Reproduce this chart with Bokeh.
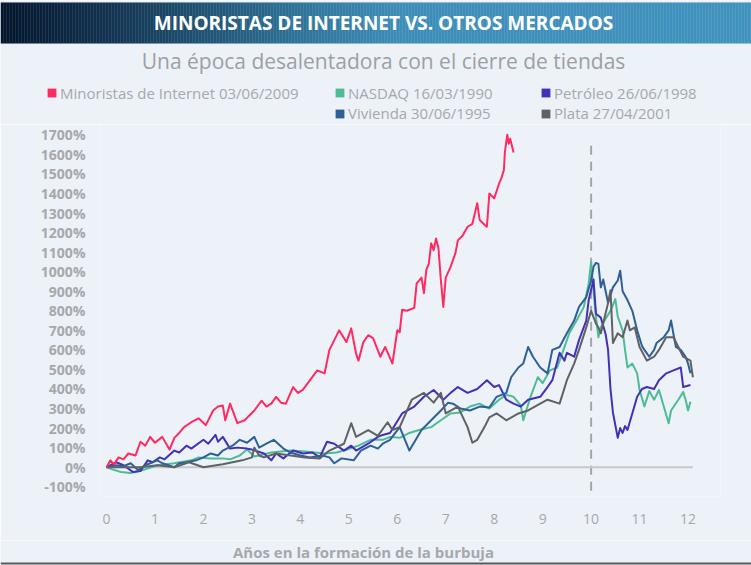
import numpy as np
from bokeh.plotting import figure
from bokeh.layouts import column
from bokeh.models import Range1d, FixedTicker, PrintfTickFormatter, Legend, LegendItem
from bokeh.embed import file_html
from bokeh.resources import INLINE
from bokeh.core.properties import value

# ---------------- data ----------------
TITLE = "MINORISTAS DE INTERNET VS. OTROS MERCADOS"
SUBTITLE = "Una época desalentadora con el cierre de tiendas"
X_LABEL = "Años en la formación de la burbuja"

SERIES_NAMES = [
    "Minoristas de Internet 03/06/2009",
    "NASDAQ 16/03/1990",
    "Petróleo 26/06/1998",
    "Vivienda 30/06/1995",
    "Plata 27/04/2001",
]

internet_years = [0, 0.08, 0.15, 0.25, 0.35, 0.45, 0.6, 0.7, 0.8, 0.9, 1.0, 1.15, 1.3, 1.4, 1.5, 1.6,
                  1.75, 1.9, 2.05, 2.2, 2.3, 2.4, 2.45, 2.55, 2.7, 2.85, 3.05, 3.2, 3.3, 3.4, 3.5, 3.6,
                  3.7, 3.85, 3.95, 4.05, 4.2, 4.35, 4.5, 4.6, 4.7, 4.8, 4.95, 5.05, 5.15, 5.2, 5.3,
                  5.4, 5.5, 5.65, 5.75, 5.9, 6.0, 6.05, 6.1, 6.2, 6.35, 6.4, 6.5, 6.55, 6.6, 6.65,
                  6.7, 6.75, 6.8, 6.85, 6.9, 6.95, 7.0, 7.1, 7.2, 7.25, 7.35, 7.45, 7.55, 7.65, 7.7,
                  7.8, 7.85, 7.9, 8.0, 8.1, 8.15, 8.2, 8.22, 8.27, 8.3, 8.33, 8.4]
internet_pct = [0, 35, 15, 50, 40, 70, 60, 130, 110, 155, 125, 155, 90, 150, 175, 205,
                230, 250, 215, 290, 310, 315, 240, 325, 225, 240, 290, 340, 310, 325, 360, 330,
                325, 410, 380, 395, 445, 495, 480, 600, 650, 700, 640, 710, 580, 545, 640,
                675, 660, 565, 615, 530, 700, 690, 805, 800, 815, 940, 970, 890, 1010, 1040,
                1145, 1110, 1170, 1120, 955, 820, 970, 1025, 1095, 1160, 1185, 1230, 1245, 1350, 1265,
                1240, 1230, 1400, 1375, 1450, 1480, 1520, 1610, 1700, 1655, 1680, 1610]

nasdaq_years = [0, 0.1, 0.3, 0.5, 0.75, 1.05, 1.4, 1.75, 1.9, 2.15, 2.4, 2.55, 2.75, 2.9, 3.05, 3.4,
                3.8, 4.1, 4.5, 4.75, 4.9, 5.2, 5.45, 5.7, 5.85, 6.05, 6.25, 6.45, 6.7, 6.9, 7.1,
                7.3, 7.5, 7.7, 7.9, 8.1, 8.25, 8.4, 8.55, 8.6, 8.75, 8.9, 9.0, 9.15, 9.3, 9.4,
                9.55, 9.7, 9.85, 9.95, 10.0, 10.05, 10.1, 10.15, 10.2, 10.3, 10.4, 10.5, 10.55,
                10.65, 10.7, 10.75, 10.85, 10.95, 11.0, 11.1, 11.2, 11.3, 11.4, 11.5, 11.6,
                11.65, 11.8, 11.9, 11.95, 12.0, 12.05]
nasdaq_pct = [0, -10, -25, -30, -15, 10, 20, 35, 50, 45, 45, 40, 60, 90, 55, 75,
              85, 80, 70, 75, 85, 110, 140, 140, 155, 150, 175, 190, 205, 240, 275,
              280, 310, 325, 300, 345, 370, 360, 315, 240, 360, 460, 430, 495, 510, 580,
              685, 750, 820, 940, 1050, 900, 770, 665, 715, 760, 800, 860, 770,
              700, 600, 510, 530, 480, 395, 310, 390, 345, 395, 310, 225,
              290, 345, 385, 345, 290, 335]

oil_years = [0, 0.2, 0.35, 0.55, 0.7, 0.85, 0.95, 1.1, 1.2, 1.4, 1.5, 1.65, 1.75, 2.0, 2.1, 2.25,
             2.3, 2.4, 2.55, 2.7, 2.9, 3.0, 3.25, 3.4, 3.5, 3.65, 3.85, 4.05, 4.25, 4.4, 4.55,
             4.7, 4.9, 5.05, 5.15, 5.4, 5.6, 5.7, 5.85, 6.1, 6.35, 6.55, 6.75, 6.95, 7.1, 7.25,
             7.45, 7.65, 7.85, 8.0, 8.1, 8.25, 8.4, 8.55, 8.7, 8.95, 9.1, 9.2, 9.35, 9.45, 9.5,
             9.65, 9.75, 9.9, 9.95, 10.05, 10.1, 10.2, 10.3, 10.35, 10.4, 10.45, 10.55, 10.6,
             10.65, 10.7, 10.75, 10.85, 10.95, 11.05, 11.15, 11.3, 11.4, 11.55, 11.7, 11.85,
             11.9, 12.05]
oil_pct = [0, 25, 10, -25, -20, 35, 25, 50, 40, 85, 75, 110, 95, 140, 120, 165,
           130, 155, 95, 100, 95, 90, 70, 35, 70, 45, 85, 70, 75, 50, 130,
           120, 85, 110, 85, 120, 155, 165, 175, 275, 310, 360, 395, 345, 380, 410,
           380, 400, 445, 410, 420, 345, 325, 310, 345, 360, 410, 445, 585, 545, 585,
           565, 650, 750, 855, 960, 785, 765, 680, 600, 400, 280, 150, 200,
           175, 210, 190, 275, 360, 400, 410, 400, 445, 480, 495, 510,
           410, 420]

housing_years = [0, 0.2, 0.35, 0.5, 0.65, 0.8, 1.05, 1.15, 1.4, 1.5, 1.65, 1.85, 2.0, 2.15, 2.3,
                 2.4, 2.6, 2.75, 2.9, 3.05, 3.15, 3.3, 3.45, 3.65, 3.8, 4.0, 4.2, 4.45, 4.6, 4.7,
                 4.85, 5.1, 5.25, 5.45, 5.6, 5.7, 5.85, 6.05, 6.25, 6.5, 6.7, 6.9, 7.05, 7.15,
                 7.3, 7.5, 7.7, 7.9, 8.05, 8.25, 8.35, 8.5, 8.6, 8.7, 8.8, 8.95, 9.1, 9.2, 9.35,
                 9.5, 9.65, 9.75, 9.9, 10.0, 10.05, 10.1, 10.15, 10.2, 10.25, 10.35, 10.45,
                 10.55, 10.6, 10.65, 10.75, 10.85, 10.95, 11.05, 11.1, 11.2, 11.3, 11.35, 11.5,
                 11.6, 11.65, 11.7, 11.75, 11.85, 11.95, 12.0, 12.05]
housing_pct = [0, 10, 5, 20, -15, 10, 35, 20, 0, 20, 25, 35, 50, 70, 60,
               85, 110, 140, 125, 155, 100, 120, 140, 95, 75, 60, 50, 60, 50, 20,
               45, 35, 85, 110, 95, 120, 140, 205, 85, 190, 240, 290, 330, 325,
               300, 290, 310, 305, 360, 380, 460, 510, 530, 615, 565, 510, 480, 600, 615,
               685, 750, 820, 870, 955, 1025, 1045, 1040, 920, 960, 840, 920,
               955, 1005, 900, 855, 800, 700, 620, 600, 565, 600, 635, 665,
               700, 750, 680, 615, 600, 565, 530, 480]

silver_years = [0, 0.35, 0.7, 1.05, 1.4, 1.7, 2.0, 2.4, 2.8, 3.0, 3.05, 3.15, 3.25, 3.5, 3.8, 4.1,
                4.4, 4.6, 4.9, 5.05, 5.15, 5.4, 5.6, 5.8, 5.9, 6.05, 6.3, 6.55, 6.75, 6.9, 7.0,
                7.25, 7.45, 7.55, 7.65, 7.8, 7.9, 8.05, 8.25, 8.5, 8.7, 8.95, 9.1, 9.35, 9.5,
                9.65, 9.75, 9.9, 10.0, 10.1, 10.15, 10.2, 10.35, 10.4, 10.45, 10.55, 10.65,
                10.75, 10.8, 10.9, 11.0, 11.15, 11.3, 11.4, 11.55, 11.7, 11.8, 11.9, 12.05, 12.1]
silver_pct = [0, 0, 0, 10, 0, 25, 0, 15, 35, 50, 100, 60, 50, 70, 60, 50,
              45, 85, 120, 225, 155, 190, 160, 230, 190, 205, 345, 380, 330, 380, 275,
              310, 205, 125, 140, 205, 255, 275, 240, 275, 290, 325, 345, 325, 445,
              530, 600, 715, 800, 735, 715, 685, 840, 905, 635, 685, 665,
              750, 700, 715, 615, 545, 565, 600, 665, 665, 615, 565, 545, 460]

SERIES_YEARS = [internet_years, nasdaq_years, oil_years, housing_years, silver_years]
SERIES_PCT = [internet_pct, nasdaq_pct, oil_pct, housing_pct, silver_pct]
COLORS = ["#ff2a5f", "#4dbb95", "#4131b9", "#2e5f97", "#5f6163"]

Y_TICKS = [-100, 0, 100, 200, 300, 400, 500, 600, 700, 800, 900, 1000, 1100, 1200,
           1300, 1400, 1500, 1600, 1700]
X_TICKS = [0, 1, 2, 3, 4, 5, 6, 7, 8, 9, 10, 11, 12]
PEAK_YEAR = 10
PEAK_LINE_SPAN = [-120, 1670]
BASELINE_YEARS = [0, 12.1]

# ---------------- style ----------------
W = 751
BG = "#edf2f9"
FONT = "Open Sans"
GREY_TXT = "#a6a8ab"


def panel(h):
    f = figure(width=W, height=h, x_range=Range1d(0, W), y_range=Range1d(h, 0),
               x_axis_type=None, y_axis_type=None, toolbar_location=None,
               output_backend="svg", min_border=0, background_fill_color=BG,
               border_fill_color=BG, outline_line_color=None, frame_align=False)
    f.grid.visible = False
    return f


# ---------------- header ----------------
HDR_H = 124
hdr = panel(HDR_H)

stop_x = [0, 100, 200, 300, 400, 751]
stop_rgb = [(3, 21, 43), (16, 48, 77), (31, 82, 114), (47, 115, 153), (61, 141, 184), (64, 146, 190)]
lefts = np.arange(0, W, 3)
cols = []
for lx in lefts:
    c = [int(round(np.interp(lx + 1.5, stop_x, [s[k] for s in stop_rgb]))) for k in range(3)]
    cols.append("#%02x%02x%02x" % tuple(c))
hdr.quad(left=lefts, right=lefts + 3.3, top=2, bottom=43, fill_color=cols, line_color=None)

hdr.text(x=[383], y=[22], text=[TITLE], text_font=value(FONT), text_font_style="bold",
         text_font_size="19px", text_color="white", text_align="center", text_baseline="middle")
hdr.text(x=[383], y=[60], text=[SUBTITLE], text_font=value(FONT), text_font_size="21px",
         text_color="#9d9fa2", text_align="center", text_baseline="middle")

nan = float("nan")
swatches = [hdr.quad(left=[nan], right=[nan], top=[nan], bottom=[nan], fill_color=c, line_color=None)
            for c in COLORS]


def make_legend(idx, loc):
    lg = Legend(items=[LegendItem(label=SERIES_NAMES[i], renderers=[swatches[i]]) for i in idx],
                location=loc, orientation="horizontal", label_text_font=FONT,
                label_text_font_size="15px", label_text_color=GREY_TXT, glyph_width=11,
                glyph_height=11, label_standoff=3, padding=0, margin=0, spacing=0,
                label_height=18, label_width=192, border_line_color=None,
                background_fill_alpha=0)
    hdr.add_layout(lg)


ROW_H = 20.4
ROW1_Y, ROW2_Y = 92.5, 113
make_legend([0], (46, HDR_H - (ROW1_Y + ROW_H / 2)))
make_legend([1, 2], (334, HDR_H - (ROW1_Y + ROW_H / 2)))
make_legend([3, 4], (334, HDR_H - (ROW2_Y + ROW_H / 2)))

# ---------------- main plot ----------------
p = figure(width=W, height=416, x_range=Range1d(-0.124, 12.67), y_range=Range1d(-150, 1753),
           toolbar_location=None, output_backend="svg", min_border_left=100,
           min_border_right=31, min_border_top=0, min_border_bottom=44,
           background_fill_color=BG, border_fill_color=BG, outline_line_color=None,
           frame_align=False)
p.grid.visible = False

p.segment(x0=[PEAK_YEAR], x1=[PEAK_YEAR], y0=[PEAK_LINE_SPAN[0]], y1=[PEAK_LINE_SPAN[1]],
          line_color="#a3a5a8", line_width=2, line_dash="9 7")
p.line(BASELINE_YEARS, [0, 0], line_color="#c6c8cb", line_width=2)

for i in [1, 2, 3, 4, 0]:
    p.line(SERIES_YEARS[i], SERIES_PCT[i], line_color=COLORS[i], line_width=2, line_join="round")

p.yaxis.ticker = FixedTicker(ticks=Y_TICKS)
p.yaxis.formatter = PrintfTickFormatter(format="%d%%")
p.xaxis.ticker = FixedTicker(ticks=X_TICKS)
for ax in (p.xaxis, p.yaxis):
    ax.axis_line_color = None
    ax.major_tick_line_color = None
    ax.minor_tick_line_color = None
    ax.major_label_text_font = FONT
    ax.major_label_text_color = GREY_TXT
p.yaxis.major_label_text_font_size = "14px"
p.yaxis.major_label_text_font_style = "bold"
p.yaxis.major_label_standoff = 9
p.xaxis.major_label_text_font_size = "14px"
p.xaxis.major_label_standoff = 11

# ---------------- footer ----------------
FTR_H = 25
ftr = panel(FTR_H)
ftr.text(x=[363], y=[11], text=[X_LABEL], text_font=value(FONT), text_font_style="bold",
         text_font_size="15px", text_color=GREY_TXT, text_align="center", text_baseline="middle")
ftr.quad(left=[0], right=[W], top=[22], bottom=[24], fill_color="#58595b", line_color=None)

layout = column(hdr, p, ftr, spacing=0)
open("out.html", "w").write(file_html(layout, INLINE))
